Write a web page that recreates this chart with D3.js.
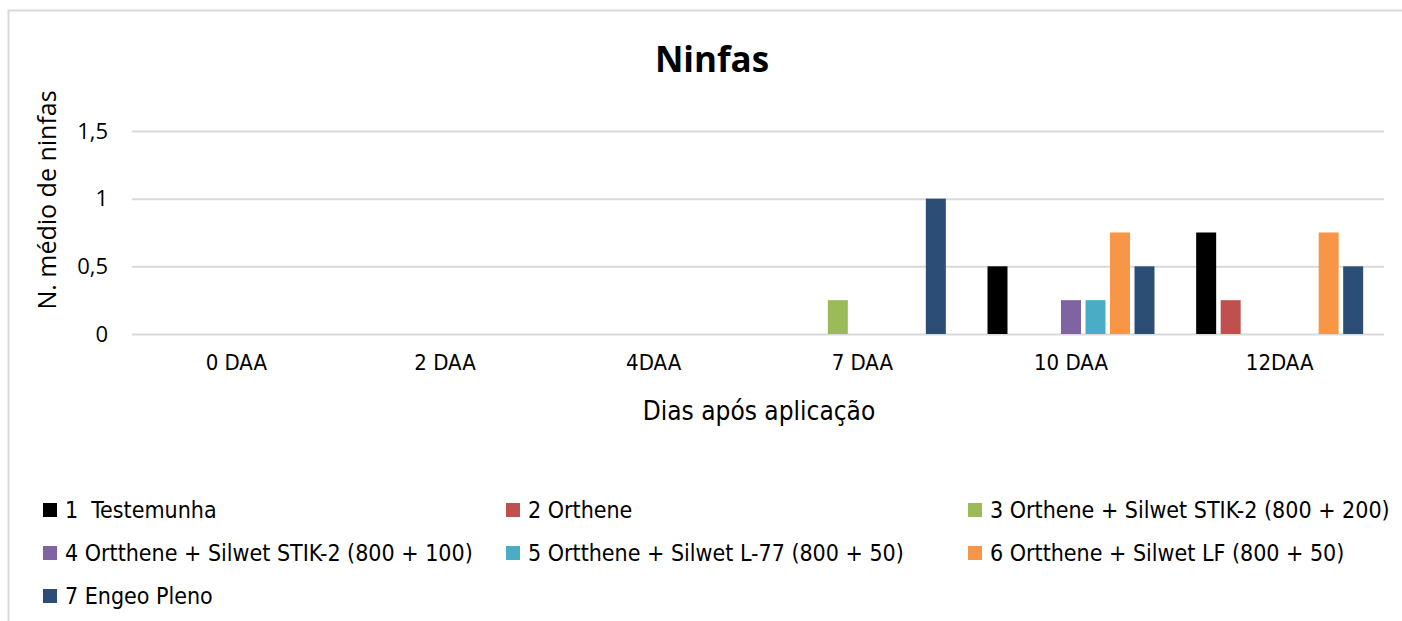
<!DOCTYPE html>
<html>
<head>
<meta charset="utf-8">
<script src="https://cdn.jsdelivr.net/npm/d3@7"></script>
<style>
  html, body { margin: 0; padding: 0; background: #fff; }
  svg { display: block; }
  .narrow { font-family: "Liberation Sans Narrow", "DejaVu Sans Condensed", sans-serif; }
</style>
</head>
<body>
<svg id="chart" width="1402" height="621"></svg>
<script>
// categories on the x axis
var categories = ['0 DAA', '2 DAA', '4DAA', '7 DAA', '10 DAA', '12DAA'];

// series names (legend order)
var seriesNames = [
	'1  Testemunha',
	'2 Orthene',
	'3 Orthene + Silwet STIK-2 (800 + 200)',
	'4 Ortthene + Silwet STIK-2 (800 + 100)',
	'5 Ortthene + Silwet L-77 (800 + 50)',
	'6 Ortthene + Silwet LF (800 + 50)',
	'7 Engeo Pleno'
];

// values per series, one per category
var testemunha   = [0, 0, 0, 0,    0.5,  0.75];
var orthene      = [0, 0, 0, 0,    0,    0.25];
var stik200      = [0, 0, 0, 0.25, 0,    0];
var stik100      = [0, 0, 0, 0,    0.25, 0];
var l77          = [0, 0, 0, 0,    0.25, 0];
var silwetLF     = [0, 0, 0, 0,    0.75, 0.75];
var engeoPleno   = [0, 0, 0, 1,    0.5,  0.5];

var seriesValues = [testemunha, orthene, stik200, stik100, l77, silwetLF, engeoPleno];
var seriesColors = ['#000000', '#C0504D', '#9BBB59', '#8064A2', '#4BACC6', '#F79646', '#2C4D75'];

var yTicks = [0, 0.5, 1, 1.5];

var svg = d3.select('#chart');

// outer frame (left and top edges visible)
svg.append('path')
	.attr('d', 'M8.5,621 V10.5 H1402')
	.attr('fill', 'none')
	.attr('stroke', '#D9D9D9')
	.attr('stroke-width', 2);

var plot = { left: 132, right: 1384, top: 131, bottom: 334 };

var y = d3.scaleLinear()
	.domain([0, 1.5])
	.range([plot.bottom, plot.top]);

var x0 = d3.scaleBand()
	.domain(categories)
	.range([plot.left, plot.right])
	.padding(0);

// 7 bars of ~20px with ~4.5px gaps, centred in each category band
var groupPad = (x0.bandwidth() - 171.5) / 2;
var x1 = d3.scaleBand()
	.domain(d3.range(seriesNames.length))
	.range([groupPad, x0.bandwidth() - groupPad])
	.paddingInner(0.184)
	.paddingOuter(0.092);

// gridlines + y tick labels
var yAxis = d3.axisLeft(y)
	.tickValues(yTicks)
	.tickSize(-(plot.right - plot.left))
	.tickPadding(24)
	.tickFormat(function(d) { return String(d).replace('.', ','); });

var gy = svg.append('g')
	.attr('transform', 'translate(' + plot.left + ',0)')
	.call(yAxis);
gy.select('.domain').remove();
gy.selectAll('.tick line')
	.attr('stroke', '#D9D9D9')
	.attr('stroke-width', 2);
gy.selectAll('.tick text')
	.attr('fill', '#000')
	.style('font-family', '"Open Sans", sans-serif')
	.style('font-size', '22px');

// bars
var bars = [];
seriesValues.forEach(function(vals, s) {
	vals.forEach(function(v, c) {
		if (v > 0) bars.push({ s: s, c: c, v: v });
	});
});

svg.append('g').selectAll('rect')
	.data(bars)
	.join('rect')
	.attr('x', function(d) { return x0(categories[d.c]) + x1(d.s); })
	.attr('y', function(d) { return y(d.v); })
	.attr('width', x1.bandwidth())
	.attr('height', function(d) { return y(0) - y(d.v); })
	.attr('fill', function(d) { return seriesColors[d.s]; });

// x labels
var xAxis = d3.axisBottom(x0).tickSize(0).tickPadding(20);
var gx = svg.append('g')
	.attr('transform', 'translate(0,' + plot.bottom + ')')
	.call(xAxis);
gx.select('.domain').remove();
gx.selectAll('.tick text')
	.attr('class', 'narrow')
	.attr('fill', '#000')
	.style('font-size', '22px');

// title
svg.append('text')
	.attr('x', 712)
	.attr('y', 72)
	.attr('text-anchor', 'middle')
	.style('font-family', '"Open Sans", sans-serif')
	.style('font-weight', 'bold')
	.style('font-size', '35px')
	.text('Ninfas');

// y axis title
svg.append('text')
	.attr('transform', 'translate(56,200) rotate(-90)')
	.attr('text-anchor', 'middle')
	.style('font-family', '"Open Sans", sans-serif')
	.style('font-size', '25px')
	.text('N. médio de ninfas');

// x axis title
svg.append('text')
	.attr('class', 'narrow')
	.attr('x', 759)
	.attr('y', 420)
	.attr('text-anchor', 'middle')
	.style('font-size', '26px')
	.text('Dias após aplicação');

// legend
var legendCols = [43, 506, 968];
var legendRows = [510, 553, 596];

var legend = svg.append('g').selectAll('g')
	.data(seriesNames)
	.join('g')
	.attr('transform', function(d, i) {
		return 'translate(' + legendCols[i % 3] + ',' + legendRows[Math.floor(i / 3)] + ')';
	});

legend.append('rect')
	.attr('x', 0)
	.attr('y', -7)
	.attr('width', 14)
	.attr('height', 14)
	.attr('fill', function(d, i) { return seriesColors[i]; });

legend.append('text')
	.attr('class', 'narrow')
	.attr('x', 22)
	.attr('y', 8)
	.style('font-size', '23px')
	.style('white-space', 'pre')
	.text(function(d) { return d; });
</script>
</body>
</html>
